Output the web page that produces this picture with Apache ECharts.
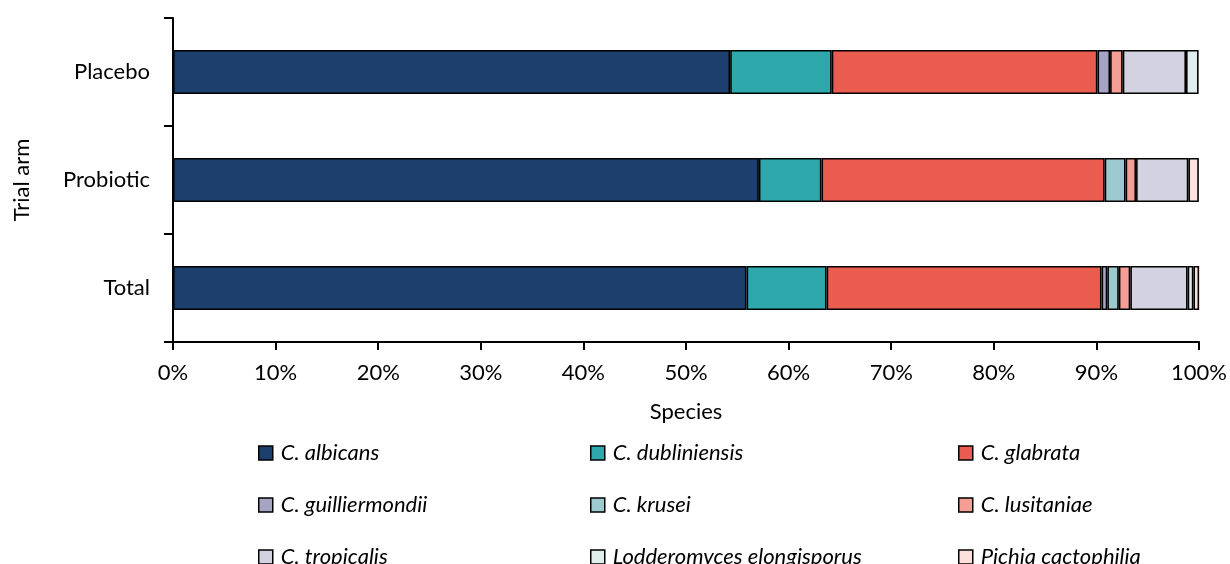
<!DOCTYPE html>
<html>
<head>
<meta charset="utf-8">
<script src="https://cdn.jsdelivr.net/npm/echarts@6/dist/echarts.min.js"></script>
<style>
html,body{margin:0;padding:0;background:#fff;}
#chart{width:1230px;height:564px;}
</style>
</head>
<body>
<div id="chart"></div>
<script>
// Categories (bottom to top)
const arms = ['Total', 'Probiotic', 'Placebo'];
const species = ['C. albicans', 'C. dubliniensis', 'C. glabrata', 'C. guilliermondii', 'C. krusei', 'C. lusitaniae', 'C. tropicalis', 'Lodderomyces elongisporus', 'Pichia cactophilia'];
const colors = ['#1c3f6e', '#2fa8ac', '#ea5c4f', '#a5a5c3', '#9dcacf', '#f49e95', '#d2d2e0', '#e0eeee', '#fde0dd'];
// Percent values per species, order: Total, Probiotic, Placebo
const albicans = [55.9, 57.1, 54.3];
const dubliniensis = [7.8, 6.1, 9.9];
const glabrata = [26.8, 27.6, 25.9];
const guilliermondii = [0.56, 0, 1.23];
const krusei = [1.12, 2.04, 0];
const lusitaniae = [1.12, 1.02, 1.23];
const tropicalis = [5.59, 5.1, 6.17];
const lodderomyces = [0.56, 0, 1.23];
const pichia = [0.56, 1.02, 0];
const xTicks = [0, 10, 20, 30, 40, 50, 60, 70, 80, 90, 100];

const values = [albicans, dubliniensis, glabrata, guilliermondii, krusei, lusitaniae, tropicalis, lodderomyces, pichia];
const FONT = 'Lato';
const FS = 22;

const series = species.map((name, i) => ({
  name: name,
  type: 'bar',
  stack: 'total',
  barWidth: 44,
  data: values[i].map(v => v === 0 ? '-' : v),
  itemStyle: { color: colors[i], borderColor: '#000', borderWidth: 1.6 },
  emphasis: { disabled: true }
}));

const legendCols = [[0, 3, 6], [1, 4, 7], [2, 5, 8]];
const legendLeft = [258, 590, 958];
const legends = legendCols.map((idx, c) => ({
  orient: 'vertical',
  left: legendLeft[c],
  top: 442,
  height: 140,
  itemGap: 30,
  itemWidth: 14,
  itemHeight: 14,
  icon: 'rect',
  padding: 0,
  data: idx.map(k => ({ name: species[k], itemStyle: { borderColor: '#000', borderWidth: 1.5 } })),
  textStyle: { fontFamily: FONT, fontStyle: 'italic', fontSize: 22, lineHeight: 20, color: '#000', padding: [0, 0, 0, 3] },
  selectedMode: false
}));

const chart = echarts.init(document.getElementById('chart'), null, { renderer: 'canvas' });
chart.setOption({
  animation: false,
  backgroundColor: '#fff',
  textStyle: { fontFamily: FONT },
  legend: legends,
  grid: { left: 173, right: 28, top: 18, bottom: 222, containLabel: false },
  xAxis: {
    type: 'value',
    min: xTicks[0],
    max: xTicks[xTicks.length - 1],
    interval: 10,
    name: 'Species',
    nameLocation: 'middle',
    nameGap: 59,
    nameTextStyle: { fontFamily: FONT, fontSize: FS, color: '#000' },
    axisLine: { show: true, lineStyle: { color: '#000', width: 2 } },
    axisTick: { show: true, length: 8, lineStyle: { color: '#000', width: 2 } },
    axisLabel: { formatter: '{value}%', fontFamily: FONT, fontSize: FS, color: '#000', margin: 20 },
    splitLine: { show: false }
  },
  yAxis: {
    type: 'category',
    data: arms,
    name: 'Trial arm',
    nameLocation: 'middle',
    nameGap: 140,
    nameRotate: 90,
    nameTextStyle: { fontFamily: FONT, fontSize: FS, color: '#000' },
    axisLine: { show: true, lineStyle: { color: '#000', width: 2 } },
    axisTick: { show: true, length: 9, lineStyle: { color: '#000', width: 2 } },
    axisLabel: { fontFamily: FONT, fontSize: 22, color: '#000', margin: 23 }
  },
  series: series
});
</script>
</body>
</html>
